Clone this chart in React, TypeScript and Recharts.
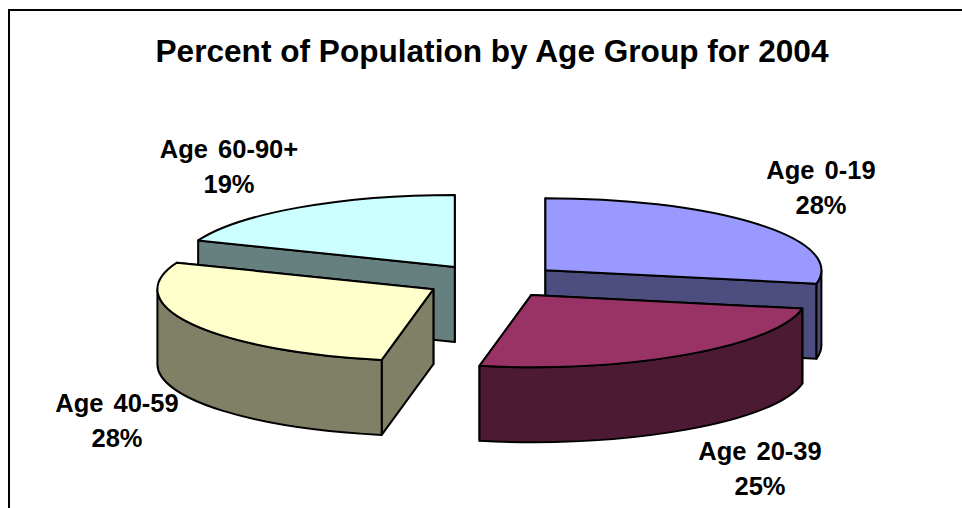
import React from "react";
import { PieChart, Pie } from "recharts";

const categories = ["Age 0-19", "Age 20-39", "Age 40-59", "Age 60-90+"];
const percents = [28, 25, 28, 19];
const topColors = ["#9999FF", "#993366", "#FFFFCC", "#CCFFFF"];
const wallColors = ["#4D4D80", "#4D1A33", "#808066", "#668080"];
const title = "Percent of Population by Age Group for 2004";

const rows = categories.map((name, i) => ({ name, value: percents[i] }));

const TILT = 0.261;
const DEPTH = 75;
const EXPLODE = 68;
const PAINT_ORDER = [3, 0, 2, 1];
const LABEL_OFFSET = [
  [328, -94],
  [267, 187],
  [-376, 139],
  [-264, -115],
];
const FONT = "'Liberation Sans', Arial, sans-serif";

function slicePaths(p: any) {
  const rx = p.outerRadius;
  const ry = rx * TILT;
  const rad = Math.PI / 180;
  const ox = p.cx + EXPLODE * Math.cos(p.midAngle * rad);
  const oy = p.cy - 17 * Math.sin(p.midAngle * rad);
  const pt = (a: number, d = 0) => [
    ox + rx * Math.cos(a * rad),
    oy - ry * Math.sin(a * rad) + d,
  ];
  const [a0, a1] = [p.startAngle, p.endAngle];
  const s = pt(a0);
  const e = pt(a1);
  const large = Math.abs(a0 - a1) > 180 ? 1 : 0;
  const top = `M${ox},${oy}L${s[0]},${s[1]}A${rx},${ry} 0 ${large} 1 ${e[0]},${e[1]}Z`;
  const wall = (q: number[]) =>
    `M${ox},${oy}L${q[0]},${q[1]}L${q[0]},${q[1] + DEPTH}L${ox},${oy + DEPTH}Z`;
  // the cut face whose outer end sits lower on the page faces the viewer: paint it last
  const walls = s[1] > e[1] ? [wall(e), wall(s)] : [wall(s), wall(e)];
  // outer rim: only the half of the ellipse that faces the viewer (angles 0 to -180)
  const from = Math.min(a0, 0);
  const to = Math.max(a1, -180);
  let rim = "";
  if (from > to) {
    const f = pt(from);
    const t = pt(to);
    rim = `M${f[0]},${f[1]}A${rx},${ry} 0 0 1 ${t[0]},${t[1]}L${t[0]},${t[1] + DEPTH}A${rx},${ry} 0 0 0 ${f[0]},${f[1] + DEPTH}Z`;
  }
  return { top, walls, rim };
}

function makeShape(only: number) {
  return function SliceShape(p: any) {
    const idx = categories.indexOf(p.name ?? p.payload?.name);
    if (idx !== only) return <g />;
    const { top, walls, rim } = slicePaths(p);
    const common = { stroke: "#000", strokeWidth: 2, strokeLinejoin: "round" as const };
    return (
      <g>
        {walls.map((d, i) => (
          <path key={i} d={d} fill={wallColors[idx]} {...common} />
        ))}
        {rim && <path d={rim} fill={wallColors[idx]} {...common} />}
        <path d={top} fill={topColors[idx]} {...common} />
      </g>
    );
  };
}

function makeLabel(only: number) {
  return function SliceLabel(p: any) {
    const idx = categories.indexOf(p.name ?? p.payload?.name);
    if (idx !== only) return <g />;
    const x = p.cx + LABEL_OFFSET[idx][0];
    const y = p.cy + LABEL_OFFSET[idx][1];
    return (
      <text
        x={x}
        y={y}
        textAnchor="middle"
        fontFamily={FONT}
        fontWeight="bold"
        fontSize={25.5}
        wordSpacing={3}
        fill="#000"
      >
        <tspan x={x} dy={-8}>{categories[idx]}</tspan>
        <tspan x={x} dy={34.5}>{percents[idx]}%</tspan>
      </text>
    );
  };
}

export default function App() {
  return (
    <div style={{ position: "absolute", left: 0, top: 0, width: 962, height: 508, background: "#fff" }}>
      <PieChart width={962} height={508} margin={{ top: 0, right: 0, bottom: 0, left: 0 }}>
        <line x1={9} y1={10} x2={962} y2={10} stroke="#000" strokeWidth={2} />
        <line x1={9} y1={9} x2={9} y2={508} stroke="#000" strokeWidth={2} />
        <text
          x={492}
          y={62}
          textAnchor="middle"
          fontFamily={FONT}
          fontWeight="bold"
          fontSize={31.6}
          fill="#000"
        >
          {title}
        </text>
        {PAINT_ORDER.map((k) => (
          <Pie
            key={k}
            data={rows}
            dataKey="value"
            nameKey="name"
            cx={493}
            cy={281}
            outerRadius={276}
            innerRadius={0}
            startAngle={90}
            endAngle={-270}
            paddingAngle={0}
            isAnimationActive={false}
            shape={makeShape(k)}
            label={makeLabel(k)}
            labelLine={false}
          />
        ))}
      </PieChart>
    </div>
  );
}
